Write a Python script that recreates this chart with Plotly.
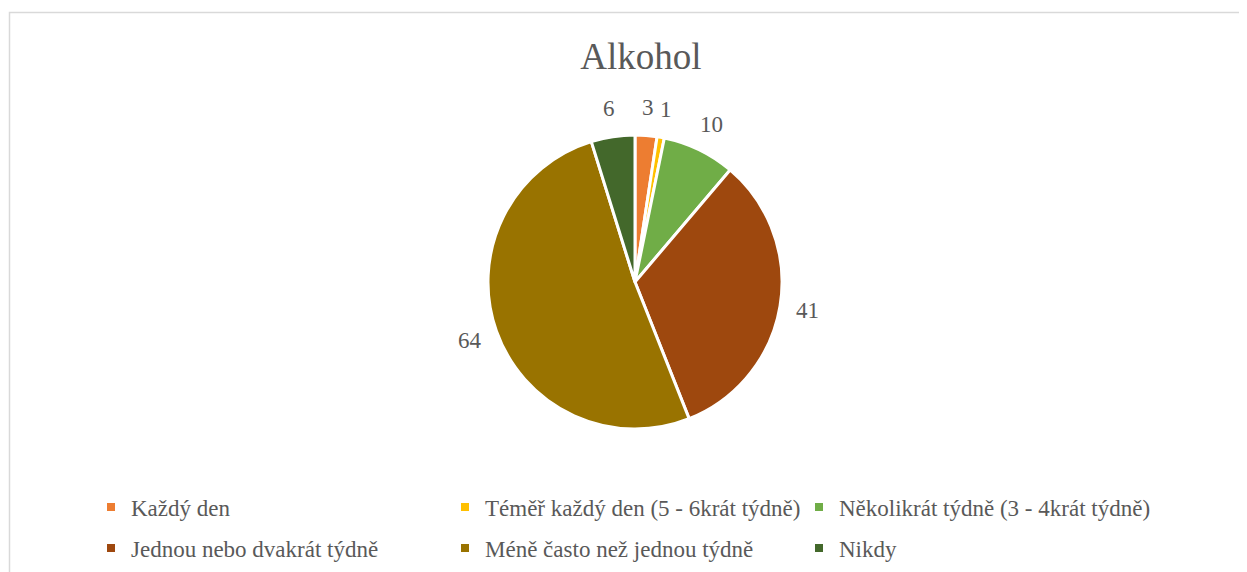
import math
import plotly.graph_objects as go

labels = ["Každý den", "Téměř každý den (5 - 6krát týdně)", "Několikrát týdně (3 - 4krát týdně)",
          "Jednou nebo dvakrát týdně", "Méně často než jednou týdně", "Nikdy"]
values = [3, 1, 10, 41, 64, 6]
colors = ["#ED7D31", "#FFC000", "#70AD47", "#9E480E", "#997300", "#43682B"]
title = "Alkohol"

FONT = "Liberation Serif, Times New Roman, serif"
TXT = "#595959"

# the page body has an 8px margin, so the figure is drawn 8px smaller and positions offset
OFF = 8
W, H = 1247 - OFF, 572 - OFF


def px(x):
    return (x - OFF) / W


def py(y):
    return 1 - (y - OFF) / H


# pie geometry (pixels in the window)
CX, CY, R = 635, 282, 147
LABEL_R = R + 28

fig = go.Figure()
fig.add_trace(go.Pie(
    labels=labels, values=values, sort=False, direction="clockwise", rotation=0,
    marker=dict(colors=colors, line=dict(color="white", width=3)),
    textinfo="none", showlegend=False,
    domain=dict(x=[px(CX - R), px(CX + R)], y=[py(CY + R), py(CY - R)]),
    hoverinfo="label+value",
))

# data labels placed at each slice's mid-angle
total = sum(values)
cum = 0
annotations = []
for v in values:
    mid = (cum + v / 2) / total * 2 * math.pi
    cum += v
    annotations.append(dict(
        x=px(CX + LABEL_R * math.sin(mid)), y=py(CY - LABEL_R * math.cos(mid)),
        xref="paper", yref="paper", text=str(v), showarrow=False,
        xanchor="center", yanchor="middle",
        font=dict(family=FONT, size=23, color=TXT)))

# legend entries (two rows, three columns) as square markers
for i, (lab, col) in enumerate(zip(labels, colors)):
    fig.add_trace(go.Scatter(
        x=[None], y=[None], mode="markers", name=lab,
        marker=dict(symbol="square", size=8, color=col),
        legend="legend" if i < 3 else "legend2", showlegend=True, hoverinfo="skip"))

legend_common = dict(orientation="h", xanchor="left", yanchor="middle",
                     entrywidth=309, entrywidthmode="pixels", bgcolor="rgba(0,0,0,0)",
                     font=dict(family=FONT, size=23, color=TXT), traceorder="normal")

fig.update_layout(
    width=W, height=H,
    margin=dict(l=0, r=0, t=0, b=0),
    paper_bgcolor="white", plot_bgcolor="white",
    xaxis=dict(visible=False), yaxis=dict(visible=False),
    title=dict(text=title, x=px(641), xanchor="center", y=py(56), yanchor="middle",
               font=dict(family=FONT, size=37, color=TXT)),
    legend=dict(x=px(91), y=py(507), **legend_common),
    legend2=dict(x=px(91), y=py(548), **legend_common),
    annotations=annotations,
    shapes=[dict(type="rect", xref="paper", yref="paper", x0=px(9.5), x1=1.02,
                 y0=-0.05, y1=py(12.5), layer="below",
                 line=dict(color="#D9D9D9", width=1.5), fillcolor="rgba(0,0,0,0)")],
)

fig.write_html("out.html")
